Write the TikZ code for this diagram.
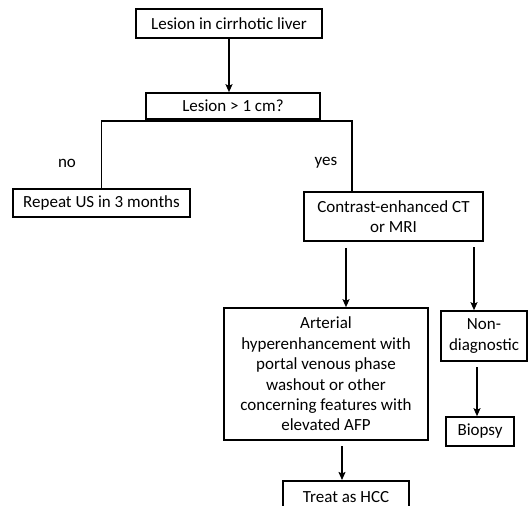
\documentclass[tikz,border=0pt]{standalone}
\usepackage{fontspec}
\setmainfont{Carlito}
\usetikzlibrary{arrows.meta}
\begin{document}
\begin{tikzpicture}[x=1pt,y=-1pt,
  box/.style={draw,line width=1.6pt,inner sep=0pt,align=center,
    font=\fontsize{17}{20.4}\selectfont},
  lbl/.style={font=\fontsize{17}{17}\selectfont,inner sep=0pt},
  arr/.style={line width=1.5pt,-{Stealth[length=8pt,width=7pt,inset=1.5pt]}},
  lin/.style={line width=1.6pt}]
\useasboundingbox (0,0) rectangle (528,506);
\clip (0,0) rectangle (528,506);
\node[box,minimum width=186pt,minimum height=29pt] (les) at (229,23.5) {Lesion in cirrhotic liver};
\node[box,minimum width=174pt,minimum height=26pt] (q) at (233,106) {Lesion \textgreater{} 1 cm?};
\node[box,minimum width=177pt,minimum height=28pt] (rep) at (101.5,203) {Repeat US in 3 months};
\node[box,minimum width=179pt,minimum height=49pt] (ct) at (393.5,216.5) {Contrast-enhanced CT\\or MRI};
\node[box,minimum width=204pt,minimum height=132pt] (art) at (326,374) {Arterial\\hyperenhancement with\\portal venous phase\\washout or other\\concerning features with\\elevated AFP};
\node[box,minimum width=86pt,minimum height=50pt] (nd) at (484,336) {Non-\\diagnostic};
\node[box,minimum width=68pt,minimum height=29pt] (bio) at (480,431.5) {Biopsy};
\node[box,minimum width=126pt,minimum height=36pt,anchor=north] (hcc) at (346,480) {};
\node[lbl] (hcct) at (346,497) {Treat as HCC};
\node[lbl] (no) at (67,163) {no};
\node[lbl] (yes) at (326,163) {yes};
\coordinate (cl) at (101.5,121);
\coordinate (cr) at (352,121);
\draw[lin] (rep.north) -- (cl) -- (cr) -- (cr |- ct.north);
\draw[arr] (les.south) -- (les.south |- q.north);
\draw[arr] ([yshift=-6pt]ct.south -| art.north) ++(20,0) coordinate (a1) -- (a1 |- art.north);
\draw[arr] (474,247) coordinate (a2) -- (a2 |- nd.north);
\draw[arr] (477,367) coordinate (a3) -- (a3 |- bio.north);
\draw[arr] (342,446) coordinate (a4) -- (a4 |- hcc.north);
\end{tikzpicture}
\end{document}
